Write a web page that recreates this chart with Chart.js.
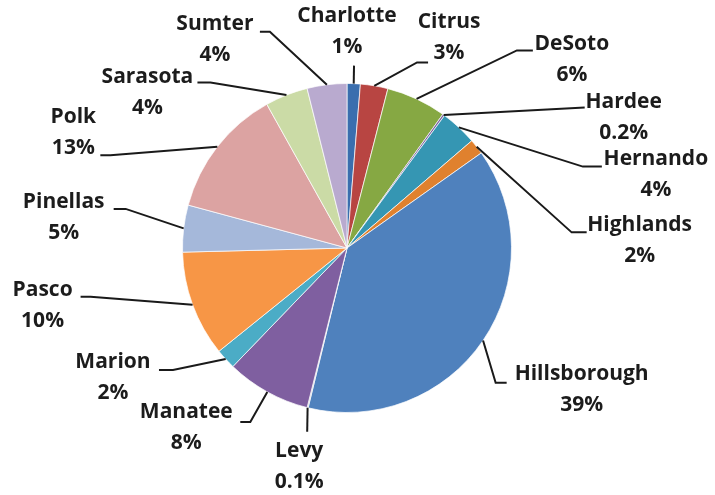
<!DOCTYPE html>
<html>
<head>
<meta charset="utf-8">
<script src="https://cdn.jsdelivr.net/npm/chart.js@4.4.1/dist/chart.umd.min.js"></script>
<style>
  html, body { margin: 0; padding: 0; background: #fff; }
  #wrap { width: 715px; height: 495px; position: relative; }
</style>
</head>
<body>
<div id="wrap"><canvas id="pie"></canvas></div>
<script>
const counties = ['Charlotte', 'Citrus', 'DeSoto', 'Hardee', 'Hernando', 'Highlands', 'Hillsborough',
  'Levy', 'Manatee', 'Marion', 'Pasco', 'Pinellas', 'Polk', 'Sarasota', 'Sumter'];
const shares = [1.3, 2.7, 5.9, 0.2, 3.6, 1.5, 38.6, 0.1, 8.3, 2.0, 10.4, 4.6, 12.7, 4.2, 3.9];
const pctText = ['1%', '3%', '6%', '0.2%', '4%', '2%', '39%', '0.1%', '8%', '2%', '10%', '5%', '13%', '4%', '4%'];

const colors = ['#3a6eae', '#b84542', '#86a843', '#7b609e', '#3596b3', '#e0812e', '#4f81bd',
  '#b0b8c2', '#7f5fa0', '#4bacc6', '#f79646', '#a5b8da', '#dca3a2', '#cbdba6', '#b9aacf'];

// label placement, relative to the point where the leader meets the slice edge
// [label dx, label dy, leader end dx, dy, elbow dx, dy]
const labelLayout = [
  [-6.7, -52.6, 0.3, -18, 0.3, -18],
  [74.8, -48.3, 53.8, -23.3, 42.8, -23.3],
  [155.3, -39, 116.3, -48.5, 100.3, -48.5],
  [180, 2.5, 141, -7.5, 141, -7.5],
  [197, 47.2, 143, 39.2, 124, 39.2],
  [163, 93.6, 110, 85.6, 95, 85.6],
  [98.6, 49.3, 23.6, 42.3, 12.6, 42.3],
  [-8.4, 59, -0.4, 24, -0.4, 24],
  [-81, 36, -27, 30, -17, 30],
  [-112.7, 18.3, -66.7, 10.8, -52.7, 10.8],
  [-150, 1, -112, -8, -102, -8],
  [-120, -11, -70, -19.5, -58, -19.5],
  [-144, -14, -117, 8.6, -107, 8.6],
  [-139, -2.6, -89, -12.6, -76, -12.6],
  [-112, -45.7, -67, -53, -57, -53]
];

const $ = (id) => document.getElementById(id);

const leaderLabels = {
  id: 'leaderLabels',
  afterDatasetsDraw(chart) {
    const ctx = chart.ctx;
    const arcs = chart.getDatasetMeta(0).data;
    ctx.save();
    ctx.font = 'bold 21px "Open Sans"';
    ctx.textAlign = 'center';
    ctx.textBaseline = 'middle';
    arcs.forEach((arc, i) => {
      const p = arc.getProps(['x', 'y', 'startAngle', 'endAngle', 'outerRadius'], true);
      const mid = (p.startAngle + p.endAngle) / 2;
      const ax = p.x + Math.cos(mid) * p.outerRadius;
      const ay = p.y + Math.sin(mid) * p.outerRadius;
      const L = labelLayout[i];

      ctx.strokeStyle = '#1a1a1a';
      ctx.lineWidth = 2;
      ctx.beginPath();
      ctx.moveTo(ax, ay);
      ctx.lineTo(ax + L[4], ay + L[5]);
      ctx.lineTo(ax + L[2], ay + L[3]);
      ctx.stroke();

      ctx.fillStyle = '#1c1c1c';
      ctx.fillText(counties[i], ax + L[0], ay + L[1] - 15.5);
      ctx.fillText(pctText[i], ax + L[0], ay + L[1] + 15.5);
    });
    ctx.restore();
  }
};

new Chart($('pie'), {
  type: 'pie',
  data: {
    labels: counties,
    datasets: [{
      data: shares,
      backgroundColor: colors,
      borderColor: 'rgba(255,255,255,0.7)',
      borderWidth: 1
    }]
  },
  options: {
    responsive: true,
    maintainAspectRatio: false,
    animation: false,
    layout: { padding: { left: 182, right: 203, top: 83, bottom: 82 } },
    plugins: { legend: { display: false }, tooltip: { enabled: false } }
  },
  plugins: [leaderLabels]
});
</script>
</body>
</html>
